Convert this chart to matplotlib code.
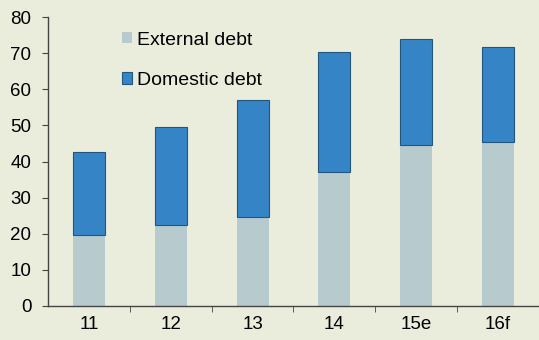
import numpy as np
import matplotlib
matplotlib.use("Agg")
import matplotlib.pyplot as plt

years    = ["11", "12", "13", "14", "15e", "16f"]
external = [19.7, 22.4, 24.7, 37.2, 44.6, 45.5]
domestic = [23.0, 27.2, 32.4, 33.1, 29.4, 26.2]   # stacked on external
yticks   = [0, 10, 20, 30, 40, 50, 60, 70, 80]

BG = "#eaecdc"
C_EXT = "#b7cacd"
C_DOM = "#3585c6"

plt.rcParams["font.family"] = ["Liberation Sans", "DejaVu Sans"]

fig = plt.figure(figsize=(5.39, 3.40), dpi=100, facecolor=BG)
ax = fig.add_axes([0.089, 0.10, 0.911, 0.85], facecolor=BG)

x = np.arange(len(years))
w = 0.39
ax.bar(x, external, width=w, color=C_EXT, label="External debt")
ax.bar(x, domestic, width=w, bottom=external, color=C_DOM,
       edgecolor="#24557f", linewidth=0.8, label="Domestic debt")

ax.set_ylim(0, 80)
ax.set_yticks(yticks)
ax.set_xlim(-0.5, 5.39)
ax.set_xticks(x)
ax.set_xticklabels(years)
ax.set_xticks(np.arange(len(years)) + 0.5, minor=True)
ax.tick_params(axis="x", which="major", length=0, pad=7, labelsize=13.5)
ax.tick_params(axis="x", which="minor", length=4, direction="out", color="#444444")
ax.tick_params(axis="y", length=4, direction="out", labelsize=13.5, pad=8,
               color="#444444")

for side in ["top", "right"]:
    ax.spines[side].set_visible(False)
for side in ["left", "bottom"]:
    ax.spines[side].set_color("#444444")
    ax.spines[side].set_linewidth(1.0)

leg = ax.legend(loc="upper left", bbox_to_anchor=(0.115, 1.01), frameon=False,
                fontsize=14, handlelength=0.5, handleheight=0.5,
                handletextpad=0.25, labelspacing=1.2)

fig.savefig("out.png", dpi=100, facecolor=BG)
